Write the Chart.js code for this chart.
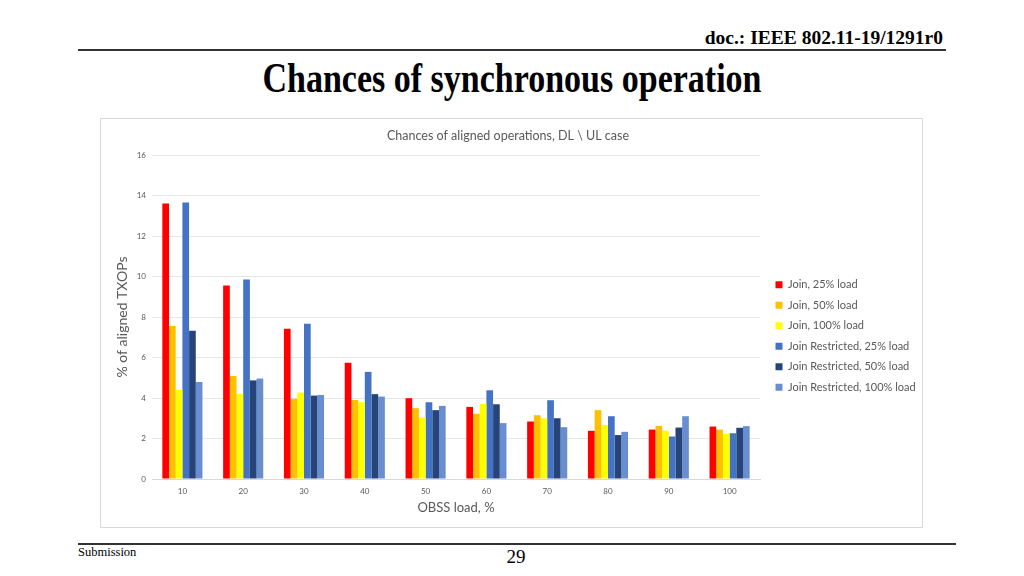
<!DOCTYPE html>
<html>
<head>
<meta charset="utf-8">
<script src="https://cdn.jsdelivr.net/npm/chart.js@4/dist/chart.umd.min.js"></script>
<style>
  html, body { margin: 0; padding: 0; background: #fff; }
  body { width: 1024px; height: 576px; position: relative; overflow: hidden; font-family: "Liberation Serif", serif; }
  .doc { position: absolute; right: 81px; top: 27px; font-size: 19.5px; font-weight: bold; color: #000; line-height: 22px; }
  .rule-top { position: absolute; left: 78px; width: 868px; top: 49px; height: 2px; background: #333; }
  .slide-title { position: absolute; left: 0; width: 1024px; top: 59px; text-align: center; font-size: 34px; line-height: 40px; font-weight: bold; color: #000; transform: scaleY(1.22); transform-origin: 50% 50%; }
  .frame { position: absolute; left: 100px; top: 118px; width: 821px; height: 408px; border: 1px solid #d9d9d9; }
  .frame canvas { display: block; }
  .rule-bottom { position: absolute; left: 78px; width: 878px; top: 543px; height: 2px; background: #333; }
  .submission { position: absolute; left: 78px; top: 545px; font-size: 12.5px; color: #000; }
  .page { position: absolute; left: 0; width: 1032px; top: 546px; text-align: center; font-size: 19px; color: #000; }
</style>
</head>
<body>
<div class="doc">doc.: IEEE 802.11-19/1291r0</div>
<div class="rule-top"></div>
<div class="slide-title">Chances of synchronous operation</div>
<div class="frame"><canvas id="chart" width="821" height="408"></canvas></div>
<div class="rule-bottom"></div>
<div class="submission">Submission</div>
<div class="page">29</div>

<script>
// OBSS load categories
const obssLoad = ['10', '20', '30', '40', '50', '60', '70', '80', '90', '100'];

// % of aligned TXOPs per series
const join25 = [13.6, 9.55, 7.42, 5.74, 3.99, 3.56, 2.84, 2.38, 2.44, 2.59];
const join50 = [7.55, 5.09, 3.96, 3.9, 3.5, 3.22, 3.15, 3.4, 2.62, 2.44];
const join100 = [4.4, 4.2, 4.27, 3.79, 3.03, 3.71, 3.0, 2.67, 2.39, 2.23];
const restricted25 = [13.65, 9.85, 7.67, 5.29, 3.79, 4.38, 3.89, 3.1, 2.1, 2.26];
const restricted50 = [7.32, 4.87, 4.12, 4.19, 3.4, 3.69, 3.0, 2.17, 2.54, 2.53];
const restricted100 = [4.79, 4.96, 4.15, 4.07, 3.61, 2.76, 2.56, 2.33, 3.1, 2.61];

const seriesNames = [
    'Join, 25% load', 'Join, 50% load', 'Join, 100% load',
    'Join Restricted, 25% load', 'Join Restricted, 50% load', 'Join Restricted, 100% load'
];
const seriesColors = ['#ff0000', '#ffc000', '#ffff00', '#4472c4', '#264478', '#698ed0'];
const yTicks = [0, 2, 4, 6, 8, 10, 12, 14, 16];

const textGrey = '#595959';
const fontFamily = 'Lato, "Open Sans", sans-serif';

// nudge the legend into place (it sits a little below centre in the original)
const legendNudge = {
    id: 'legendNudge',
    afterLayout(chart) {
        const lg = chart.legend;
        lg.left += 6; lg.right += 6;
        lg.top += 13; lg.bottom += 13;
    }
};

const allSeries = [join25, join50, join100, restricted25, restricted50, restricted100];

new Chart(document.getElementById('chart'), {
    type: 'bar',
    data: {
        labels: obssLoad,
        datasets: allSeries.map((values, i) => ({
            label: seriesNames[i],
            data: values,
            backgroundColor: seriesColors[i],
            borderWidth: 0,
            categoryPercentage: 0.66,
            barPercentage: 1.0
        }))
    },
    options: {
        responsive: false,
        animation: false,
        layout: { padding: { left: 0, top: 0, bottom: 0, right: 7 } },
        plugins: {
            title: {
                display: true,
                text: 'Chances of aligned operations, DL \\ UL case',
                color: textGrey,
                font: { family: fontFamily, size: 12.5, weight: 'normal' },
                padding: { top: 9, bottom: 12 }
            },
            legend: {
                position: 'right',
                align: 'center',
                maxWidth: 155,
                labels: {
                    boxWidth: 7,
                    boxHeight: 7,
                    padding: 9.5,
                    color: textGrey,
                    font: { family: fontFamily, size: 11 }
                }
            },
            tooltip: { enabled: false }
        },
        scales: {
            x: {
                grid: { display: false, drawTicks: false },
                border: { display: true, color: '#d9d9d9' },
                ticks: { color: textGrey, font: { family: fontFamily, size: 8 }, padding: 8 },
                title: {
                    display: true,
                    text: 'OBSS load, %',
                    color: textGrey,
                    font: { family: fontFamily, size: 13 },
                    padding: { top: 0, bottom: 11 }
                },
                afterFit(scale) { scale.height = 48; }
            },
            y: {
                min: 0,
                max: 16,
                afterBuildTicks(scale) { scale.ticks = yTicks.map(v => ({ value: v })); },
                grid: { color: '#e6e6e6', drawTicks: false },
                border: { display: false },
                ticks: { color: textGrey, font: { family: fontFamily, size: 8 }, padding: 6 },
                title: {
                    display: true,
                    text: '% of aligned TXOPs',
                    color: textGrey,
                    font: { family: fontFamily, size: 14 },
                    padding: { top: 13, bottom: 0 }
                },
                afterFit(scale) { scale.width = 51; }
            }
        }
    },
    plugins: [legendNudge]
});
</script>
</body>
</html>
